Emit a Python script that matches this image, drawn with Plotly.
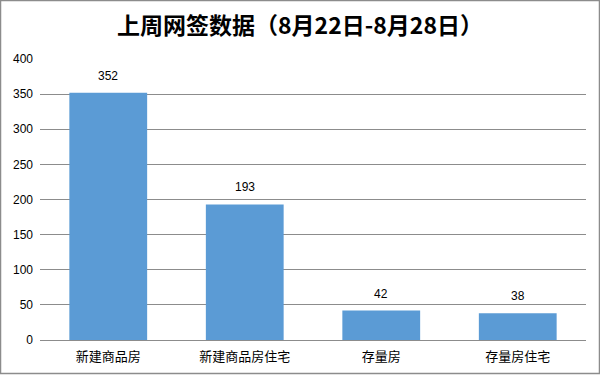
import plotly.graph_objects as go

categories = ["新建商品房", "新建商品房住宅", "存量房", "存量房住宅"]
values = [352, 193, 42, 38]
title_text = "上周网签数据（8月22日-8月28日）"

W, H = 600, 375
L, R, T, B = 40, 14, 59, 35
pw, ph = W - L - R, H - T - B

fig = go.Figure(go.Bar(
    x=categories, y=values,
    marker=dict(color="#5B9BD5", line=dict(width=0)),
))

for c, v in zip(categories, values):
    fig.add_annotation(x=c, y=v, text=str(v), showarrow=False, yanchor="bottom", yshift=8,
                       font=dict(size=12, color="#000000", family="Liberation Sans, Arial, sans-serif"))

fig.update_layout(
    width=W, height=H,
    margin=dict(l=L, r=R, t=T, b=B, autoexpand=False),
    paper_bgcolor="white", plot_bgcolor="white",
    bargap=0.43,
    showlegend=False,
    title=dict(text="<b>" + title_text + "</b>", x=0.5, xanchor="center", y=1 - 26 / H, yanchor="middle",
               font=dict(size=23, color="#000000", family="Noto Sans CJK SC")),
    font=dict(family="Noto Sans CJK SC", size=12, color="#000000"),
    xaxis=dict(showgrid=False, showline=False, ticks="", ticklabelstandoff=7, automargin=False,
               tickfont=dict(size=13, family="Noto Sans CJK SC")),
    yaxis=dict(range=[0, 400], dtick=50, showgrid=True, gridcolor="#8C8C8C", gridwidth=1, automargin=False,
               zeroline=True, zerolinecolor="#8C8C8C", zerolinewidth=1, showline=False, ticks="",
               tickfont=dict(size=12, family="Liberation Sans, Arial, sans-serif"), ticklabelstandoff=6),
    shapes=[dict(type="rect", xref="paper", yref="paper",
                 x0=(0.5 - L) / pw, x1=(W - 0.5 - L) / pw,
                 y0=-(B - 1.5) / ph, y1=(ph + T - 0.5) / ph,
                 line=dict(color="#8C8C8C", width=1.5), fillcolor="rgba(0,0,0,0)", layer="above")],
)

fig.write_html("out.html")
